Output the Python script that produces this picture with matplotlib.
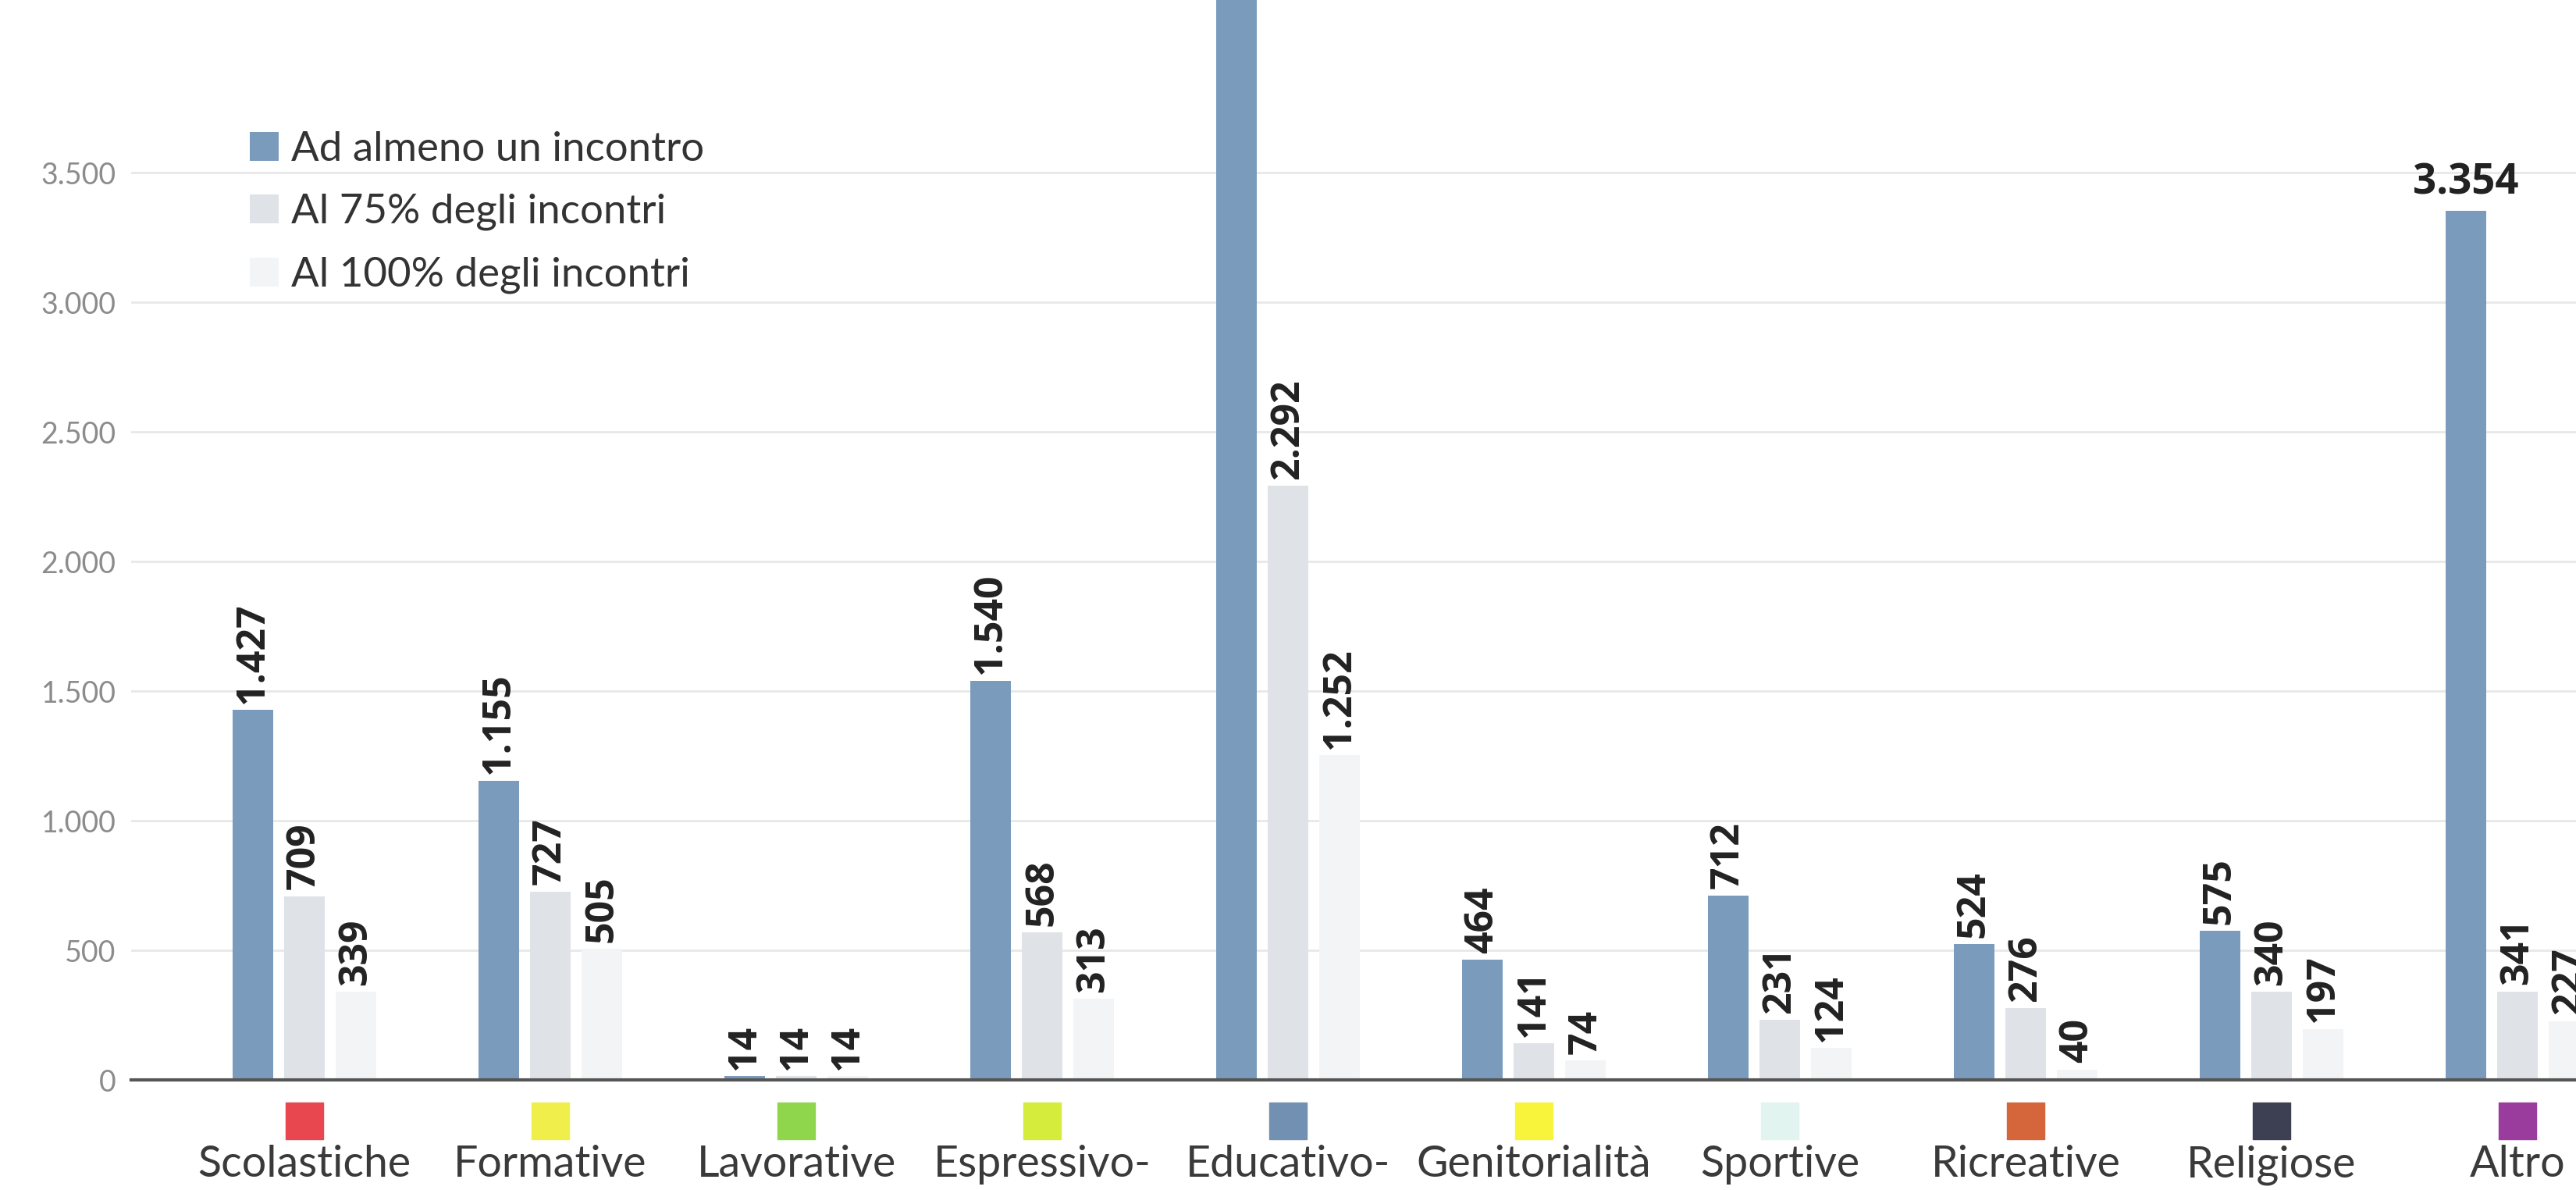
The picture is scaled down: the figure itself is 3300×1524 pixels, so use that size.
import numpy as np
import matplotlib.pyplot as plt

# dati (Educativo: barra tagliata in alto, valore stimato)
categorie = ["Scolastiche", "Formative", "Lavorative", "Espressivo-", "Educativo-",
             "Genitorialità", "Sportive", "Ricreative", "Religiose", "Altro"]
almeno_uno = [1427, 1155, 14, 1540, 4500, 464, 712, 524, 575, 3354]
al_75 = [709, 727, 14, 568, 2292, 141, 231, 276, 340, 341]
al_100 = [339, 505, 14, 313, 1252, 74, 124, 40, 197, 227]
colori_cat = ["#e8474f", "#f0ee4a", "#8fd64c", "#d6ec3c", "#7290b2",
              "#f8f43c", "#e2f4ef", "#d5653b", "#3d4053", "#9a3c9e"]
serie_nomi = ["Ad almeno un incontro", "Al 75% degli incontri", "Al 100% degli incontri"]
serie_colori = ["#7b9bbd", "#dfe3e8", "#f3f4f6"]
y_ticks = [0, 500, 1000, 1500, 2000, 2500, 3000, 3500]

plt.rcParams['font.family'] = ['Lato', 'DejaVu Sans']


def fmt(v):
    return f"{v:,}".replace(",", ".")


fig = plt.figure(figsize=(33, 15.24), dpi=100)
ax = fig.add_axes([0.0509, 0.0925, 0.9491, 0.9075])

x = np.arange(len(categorie))
passo = 0.21
larg = 0.165
ymax = 4166

barre = []
for k, (vals, col) in enumerate(zip([almeno_uno, al_75, al_100], serie_colori)):
    xs = x + (k - 1) * passo
    b = ax.bar(xs, vals, width=larg, color=col, zorder=2)
    barre.append(b)
    for xi, v in zip(xs, vals):
        if v > ymax:
            continue
        rot = 0 if v > 3000 else 90
        ax.annotate(fmt(v), (xi, v), xytext=(0, 6), textcoords='offset points',
                    ha='center', va='bottom', rotation=rot,
                    fontsize=38 if rot == 0 else 36,
                    fontweight='bold', family=['Open Sans', 'DejaVu Sans'],
                    color='#222222', zorder=3)

ax.set_xlim(-0.705, 9.238)
ax.set_ylim(0, ymax)

ax.set_yticks(y_ticks, labels=[fmt(t) for t in y_ticks])
ax.tick_params(axis='y', length=0, pad=14, labelsize=27, labelcolor='#8c8c8c')
ax.set_xticks(x, categorie)
ax.tick_params(axis='x', length=0, pad=60, labelsize=40, labelcolor='#3a3a3a')

ax.grid(axis='y', color='#e8e8e8', linewidth=2)
ax.set_axisbelow(True)
for s in ['top', 'right', 'left']:
    ax.spines[s].set_visible(False)
ax.spines['bottom'].set_color('#555555')
ax.spines['bottom'].set_linewidth(3)
ax.spines['bottom'].set_zorder(4)

# quadratini colorati sotto l'asse
ax.scatter(x, [-0.038] * len(x), transform=ax.get_xaxis_transform(), marker='s',
           s=34 ** 2, c=colori_cat, clip_on=False, zorder=3)

ax.legend(barre, serie_nomi, loc='upper left', bbox_to_anchor=(0.097, 0.89),
          bbox_transform=fig.transFigure, frameon=False, fontsize=38,
          handlelength=0.7, handleheight=0.7, handletextpad=0.3,
          labelspacing=0.63, borderpad=0, borderaxespad=0, labelcolor='#333333')

fig.savefig("out.png", dpi=100)
